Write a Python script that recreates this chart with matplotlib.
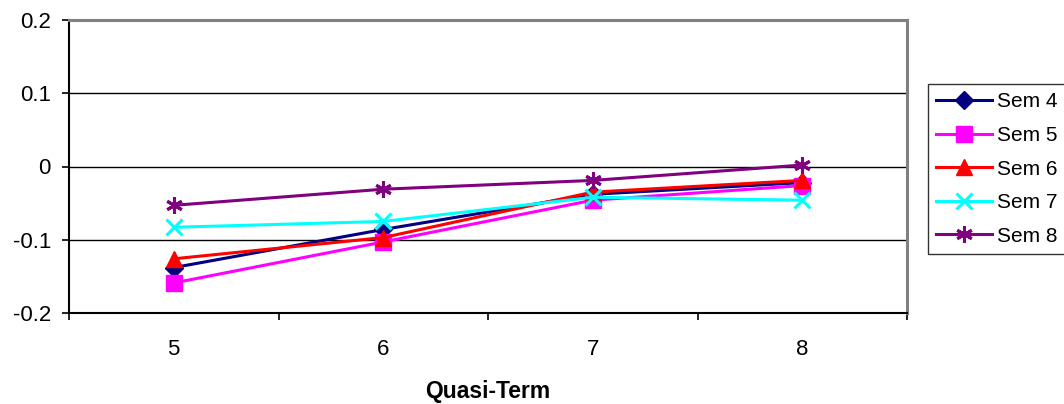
import matplotlib.pyplot as plt
import numpy as np

plt.rcParams['font.family'] = ['Liberation Sans', 'DejaVu Sans']

# quasi-term categories and the mean value per semester cohort
terms = ['5', '6', '7', '8']
sem4 = [-0.138, -0.086, -0.038, -0.022]
sem5 = [-0.159, -0.103, -0.046, -0.026]
sem6 = [-0.126, -0.097, -0.035, -0.019]
sem7 = [-0.083, -0.075, -0.042, -0.046]
sem8 = [-0.053, -0.031, -0.019, 0.002]

series = [
    ('Sem 4', sem4, '#000080', 'D', 9),
    ('Sem 5', sem5, '#FF00FF', 's', 11),
    ('Sem 6', sem6, '#FF0000', '^', 11),
    ('Sem 7', sem7, '#00FFFF', 'x', 11),
    ('Sem 8', sem8, '#800080', (6, 2, 0), 12),
]

fig = plt.figure(figsize=(10.64, 4.04), dpi=100)
ax = fig.add_axes([69 / 1064, 1 - 313 / 404, 838 / 1064, 293 / 404])

x = np.arange(len(terms)) + 0.5
for name, vals, col, mk, ms in series:
    ax.plot(x, vals, color=col, lw=2.2, marker=mk, markersize=ms,
            markeredgewidth=2.2 if mk in ('x', (6, 2, 0)) else 1,
            markeredgecolor=col, markerfacecolor=col, label=name, clip_on=False)

ax.set_xlim(0, len(terms))
ax.set_ylim(-0.2, 0.2)
ax.set_yticks([-0.2, -0.1, 0, 0.1, 0.2])
ax.set_yticklabels(['-0.2', '-0.1', '0', '0.1', '0.2'])
for yv in [-0.1, 0, 0.1]:
    ax.axhline(yv, color='black', lw=1, zorder=0)

# category separators as major ticks, labels on minor ticks
ax.set_xticks(np.arange(len(terms) + 1))
ax.set_xticklabels([])
ax.set_xticks(x, minor=True)
ax.set_xticklabels(terms, minor=True)
ax.tick_params(axis='x', which='major', length=5, width=1.2, direction='out')
ax.tick_params(axis='x', which='minor', length=0, pad=19, labelsize=16)
ax.tick_params(axis='y', length=5, width=1.2, direction='out', labelsize=16, pad=8)

ax.spines['left'].set_color('black')
ax.spines['bottom'].set_color('black')
ax.spines['left'].set_linewidth(1.5)
ax.spines['bottom'].set_linewidth(1.5)
ax.spines['top'].set_color('#808080')
ax.spines['right'].set_color('#808080')
ax.spines['top'].set_linewidth(2.2)
ax.spines['right'].set_linewidth(2.2)

ax.set_xlabel('Quasi-Term', fontsize=16.5, fontweight='bold', labelpad=14)

leg = ax.legend(loc='upper left', bbox_to_anchor=(928 / 1064, 1 - 84 / 404),
                bbox_transform=fig.transFigure, fontsize=15, frameon=True,
                fancybox=False, edgecolor='black', borderpad=0.4,
                labelspacing=0.7, handlelength=2.65, handletextpad=0.25,
                borderaxespad=0)
leg.get_frame().set_linewidth(1)

fig.savefig('out.png', dpi=100)
